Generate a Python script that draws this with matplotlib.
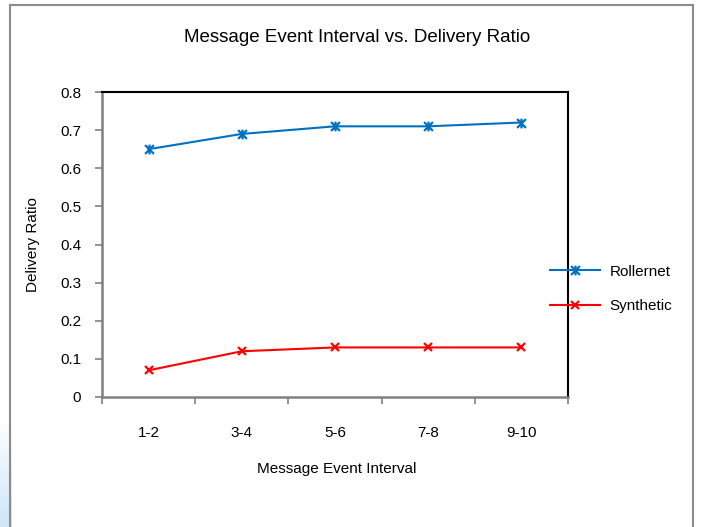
import numpy as np
import matplotlib
matplotlib.use('Agg')
import matplotlib.pyplot as plt
from matplotlib.patches import Rectangle
from matplotlib.path import Path

plt.rcParams['font.family'] = ['Liberation Sans', 'DejaVu Sans']

categories = ['1-2', '3-4', '5-6', '7-8', '9-10']
rollernet = [0.65, 0.69, 0.71, 0.71, 0.72]
synthetic = [0.07, 0.12, 0.13, 0.13, 0.13]
yticks = [0, 0.1, 0.2, 0.3, 0.4, 0.5, 0.6, 0.7, 0.8]
ytick_labels = ['0', '0.1', '0.2', '0.3', '0.4', '0.5', '0.6', '0.7', '0.8']

# excel style star marker: an x with a vertical bar through it
star = Path([(-1, -1), (1, 1), (-1, 1), (1, -1), (0, -1.1), (0, 1.1)],
            [Path.MOVETO, Path.LINETO, Path.MOVETO, Path.LINETO,
             Path.MOVETO, Path.LINETO])

W, H = 704, 527
fig = plt.figure(figsize=(W / 100, H / 100), dpi=100)

# light blue glow bottom-left, outside the chart border
glow = fig.add_axes([0, 0, 12 / W, 110 / H])
grad = np.linspace(0, 1, 50).reshape(-1, 1) * np.ones((1, 5))
glow.imshow(grad, cmap=matplotlib.colors.LinearSegmentedColormap.from_list(
    'g', ['#ffffff', '#cfe6f7']), aspect='auto', origin='upper')
glow.axis('off')

# chart border
fig.patches.append(Rectangle((10 / W, -0.01), 683 / W, 1 - 5 / H + 0.01,
                             transform=fig.transFigure, fill=False,
                             edgecolor='#8c8c8c', lw=1.5))

ax = fig.add_axes([102 / W, 1 - 397 / H, 466 / W, 305 / H])
x = np.arange(len(categories))

ax.plot(x, rollernet, color='#0070C0', lw=1.5, marker=star, ms=7,
        mew=1.6, label='Rollernet')
ax.plot(x, synthetic, color='#FF0000', lw=1.5, marker='x', ms=6,
        mew=1.6, label='Synthetic')

ax.set_xlim(-0.5, len(categories) - 0.5)
ax.set_ylim(0, 0.8)
ax.set_yticks(yticks)
ax.set_yticklabels(ytick_labels)
ax.set_xticks(np.arange(len(categories) + 1) - 0.5)
ax.set_xticklabels([])
ax.set_xticks(x, minor=True)
ax.set_xticklabels(categories, minor=True)
ax.tick_params(axis='x', which='major', direction='out', length=5,
               color='#808080', width=1.2)
ax.tick_params(axis='x', which='minor', length=0, pad=21, labelsize=11)
ax.tick_params(axis='y', direction='out', length=5, color='#808080',
               width=1.2, pad=10, labelsize=11)

for s in ['left', 'bottom']:
    ax.spines[s].set_color('#808080')
    ax.spines[s].set_linewidth(1.8)
for s in ['top', 'right']:
    ax.spines[s].set_color('black')
    ax.spines[s].set_linewidth(1.5)

fig.text(357 / W, 1 - 38 / H, 'Message Event Interval vs. Delivery Ratio',
         ha='center', va='center', fontsize=13.5)
fig.text(337 / W, 1 - 469 / H, 'Message Event Interval',
         ha='center', va='center', fontsize=11)
fig.text(33 / W, 1 - 245 / H, 'Delivery Ratio', rotation=90,
         ha='center', va='center', fontsize=11)

fig.legend(loc='center left', bbox_to_anchor=(550 / W, 1 - 289 / H),
           frameon=False, fontsize=11, handlelength=3.3, handletextpad=0.6,
           labelspacing=1.35, borderpad=0, borderaxespad=0)

fig.savefig('out.png', dpi=100)
